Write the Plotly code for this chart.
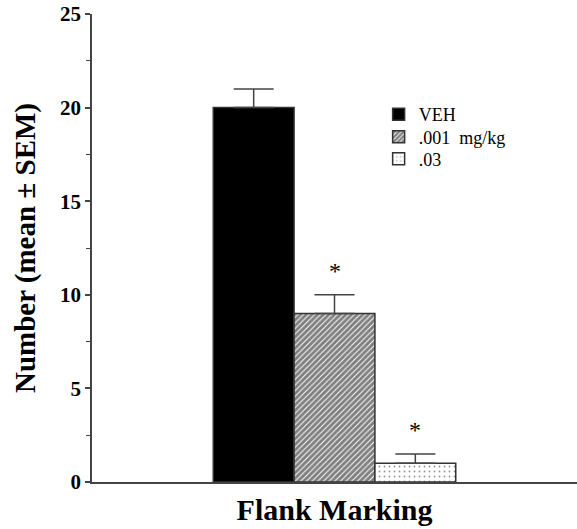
import plotly.graph_objects as go

groups = ["VEH", ".001  mg/kg", ".03"]
means = [20.0, 9.0, 1.0]
sems = [1.0, 1.0, 0.5]
positions = [0, 1, 2]
sig = [False, True, True]
category = "Flank Marking"
yticks = [0, 5, 10, 15, 20, 25]
yminor = [2.5, 7.5, 12.5, 17.5, 22.5]

fills = ["black", "white", "white"]
patterns = [dict(shape=""),
            dict(shape="/", fgcolor="black", bgcolor="white", size=4, solidity=0.75),
            dict(shape=".", fgcolor="#222", bgcolor="white", size=5, solidity=0.1)]

SERIF = "Liberation Serif"
legend_names = ["legend", "legend2", "legend3"]

fig = go.Figure()
for g, m, s, p, c, pat, lg in zip(groups, means, sems, positions, fills, patterns, legend_names):
    fig.add_trace(go.Bar(
        x=[p], y=[m], name=g, width=1, legend=lg, showlegend=True,
        marker=dict(color=c, line=dict(color="#333", width=1.5), pattern=pat),
        error_y=dict(type="data", array=[s], arrayminus=[0], symmetric=False,
                     color="#444", thickness=1.5, width=20),
    ))

for p, m, s, flag in zip(positions, means, sems, sig):
    if flag:
        fig.add_annotation(x=p, y=m + s, text="*", showarrow=False,
                           yanchor="bottom", yshift=9,
                           font=dict(family=SERIF, size=24, color="black"))

legend_style = dict(xanchor="left", yanchor="middle", x=0.591,
                    font=dict(family=SERIF, size=18, color="black"),
                    bgcolor="rgba(0,0,0,0)", borderwidth=0, visible=True)
ly = [0.785, 0.737, 0.690]

fig.update_layout(
    width=577, height=529,
    margin=dict(l=92, r=0, t=14, b=47),
    paper_bgcolor="white", plot_bgcolor="white",
    barmode="overlay", showlegend=True,
    font=dict(family=SERIF, color="black"),
    legend=dict(y=ly[0], **legend_style),
    legend2=dict(y=ly[1], **legend_style),
    legend3=dict(y=ly[2], **legend_style),
    xaxis=dict(range=[-2, 4], tickmode="array", tickvals=[1],
               ticktext=["<b>" + category + "</b>"], ticks="",
               showline=True, linecolor="#444", linewidth=1.5,
               showgrid=False, zeroline=False,
               tickfont=dict(family=SERIF, size=30)),
    yaxis=dict(range=[0, 25], tickmode="array", tickvals=yticks,
               ticktext=["<b>%d</b>" % v for v in yticks],
               ticks="outside", ticklen=5, tickwidth=1.5, tickcolor="#444",
               minor=dict(tickvals=yminor, ticks="outside",
                          ticklen=4, tickwidth=1, tickcolor="#444", showgrid=False),
               showline=True, linecolor="#444", linewidth=1.5,
               showgrid=False, zeroline=False,
               tickfont=dict(family=SERIF, size=21),
               title=dict(text="<b>Number (mean ± SEM)</b>",
                          font=dict(family=SERIF, size=29), standoff=16)),
)

fig.write_html("out.html", config={"displayModeBar": False},
               post_script="document.body.style.margin='0px';")
